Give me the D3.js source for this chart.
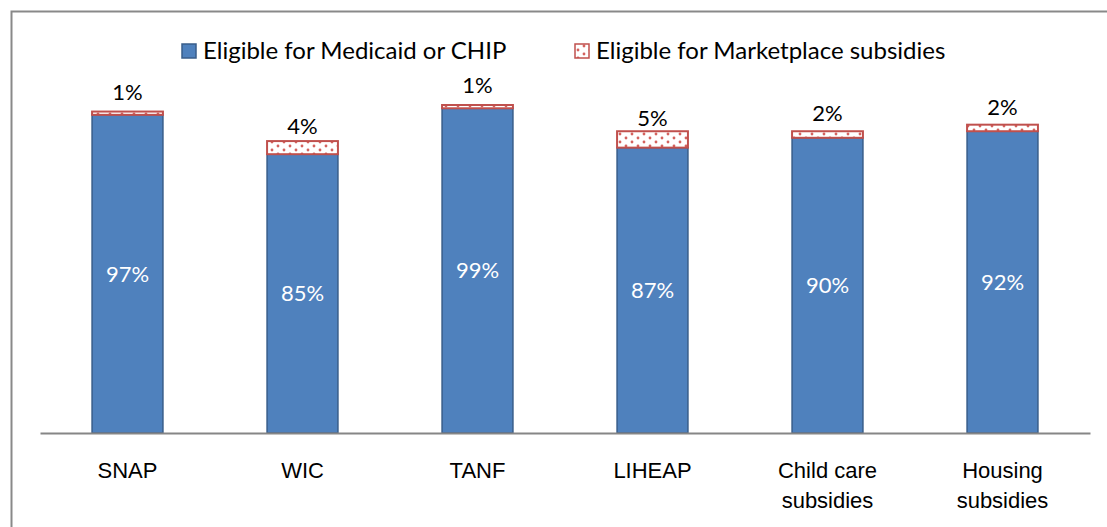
<!DOCTYPE html>
<html>
<head>
<meta charset="utf-8">
<script src="https://cdn.jsdelivr.net/npm/d3@7"></script>
<style>
  body { margin: 0; background: #fff; }
  svg { font-family: Lato, "Open Sans", sans-serif; }
</style>
</head>
<body>
<script>
const categories = ["SNAP", "WIC", "TANF", "LIHEAP", "Child care\nsubsidies", "Housing\nsubsidies"];
const medicaid = [97, 85, 99, 87, 90, 92];
const marketplace = [1, 4, 1, 5, 2, 2];
const seriesNames = ["Eligible for Medicaid or CHIP", "Eligible for Marketplace subsidies"];

const w = 1107;
const h = 527;

const svg = d3.select("body").append("svg").attr("width", w).attr("height", h);

// dotted fill for the marketplace series
const defs = svg.append("defs");
const pat = defs.append("pattern")
  .attr("id", "dots")
  .attr("patternUnits", "userSpaceOnUse")
  .attr("width", 12)
  .attr("height", 8);
pat.append("rect").attr("width", 12).attr("height", 8).attr("fill", "#fff");
pat.append("circle").attr("cx", 2).attr("cy", 2).attr("r", 1.4).attr("fill", "#d4625e");
pat.append("circle").attr("cx", 8).attr("cy", 6).attr("r", 1.4).attr("fill", "#d4625e");

// chart frame
svg.append("path")
  .attr("d", "M11.5," + h + "V11.5H" + w)
  .attr("fill", "none")
  .attr("stroke", "#898989")
  .attr("stroke-width", 2);

const x = d3.scaleBand()
  .domain(categories)
  .range([40, 1090])
  .paddingInner(0.595)
  .paddingOuter(0.2975);

const y = d3.scaleLinear().domain([0, 100]).range([433, 105]);

const bars = svg.append("g");

bars.selectAll("rect.med")
  .data(categories)
  .enter()
  .append("rect")
  .attr("class", "med")
  .attr("x", (d) => x(d))
  .attr("y", (d, i) => y(medicaid[i]))
  .attr("width", x.bandwidth())
  .attr("height", (d, i) => y(0) - y(medicaid[i]))
  .attr("fill", "#4f81bd")
  .attr("stroke", "#385d8a")
  .attr("stroke-width", 1.5);

bars.selectAll("rect.mkt")
  .data(categories)
  .enter()
  .append("rect")
  .attr("class", "mkt")
  .attr("x", (d) => x(d))
  .attr("y", (d, i) => y(medicaid[i] + marketplace[i]))
  .attr("width", x.bandwidth())
  .attr("height", (d, i) => y(medicaid[i]) - y(medicaid[i] + marketplace[i]))
  .attr("fill", "url(#dots)")
  .attr("stroke", "#c0504d")
  .attr("stroke-width", 2);

// value labels
bars.selectAll("text.medlab")
  .data(categories)
  .enter()
  .append("text")
  .attr("x", (d) => x(d) + x.bandwidth() / 2)
  .attr("y", (d, i) => (y(0) + y(medicaid[i])) / 2)
  .attr("dy", "0.35em")
  .attr("text-anchor", "middle")
  .attr("fill", "#fff")
  .attr("font-size", 22)
  .text((d, i) => medicaid[i] + "%");

bars.selectAll("text.mktlab")
  .data(categories)
  .enter()
  .append("text")
  .attr("x", (d) => x(d) + x.bandwidth() / 2)
  .attr("y", (d, i) => (y(medicaid[i]) + y(medicaid[i] + marketplace[i])) / 2 - 21)
  .attr("dy", "0.35em")
  .attr("text-anchor", "middle")
  .attr("fill", "#000")
  .attr("font-size", 22)
  .text((d, i) => marketplace[i] + "%");

// x axis
const xAxis = d3.axisBottom(x).tickSize(0).tickPadding(0);
const gx = svg.append("g")
  .attr("transform", "translate(0,433)")
  .call(xAxis);
gx.select(".domain").attr("stroke", "#868686").attr("stroke-width", 2);
gx.selectAll(".tick text").remove();
gx.selectAll(".tick").each(function (d) {
  const t = d3.select(this).append("text")
    .attr("fill", "#000")
    .attr("font-size", 22)
    .attr("text-anchor", "middle")
    .attr("y", 45);
  d.split("\n").forEach((line, k) => {
    t.append("tspan").attr("x", 0).attr("dy", k === 0 ? 0 : 30).text(line);
  });
});

// legend
const legend = svg.append("g");
const legX = [182, 575];
seriesNames.forEach((name, i) => {
  legend.append("rect")
    .attr("x", legX[i])
    .attr("y", 44)
    .attr("width", 14)
    .attr("height", 14)
    .attr("fill", i === 0 ? "#4f81bd" : "url(#dots)")
    .attr("stroke", i === 0 ? "#385d8a" : "#c0504d")
    .attr("stroke-width", 1.5);
  legend.append("text")
    .attr("x", legX[i] + 21)
    .attr("y", 59)
    .attr("font-size", 24)
    .attr("fill", "#000")
    .text(name);
});
</script>
</body>
</html>
